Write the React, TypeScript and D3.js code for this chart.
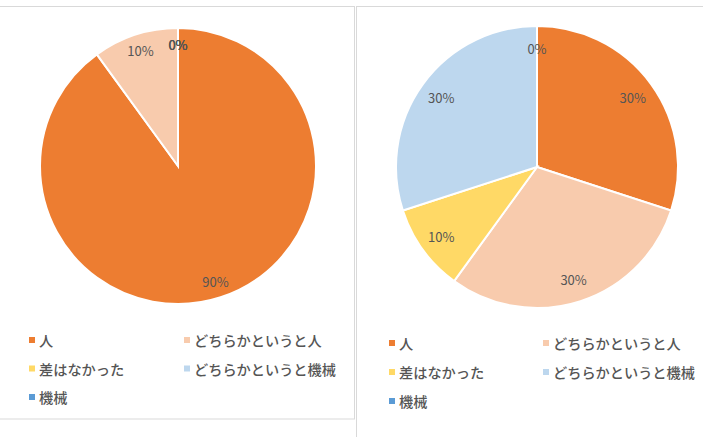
import * as d3 from "d3";

const WIDTH = 703;
const HEIGHT = 437;

const categories = ["人", "どちらかというと人", "差はなかった", "どちらかというと機械", "機械"];
const colors = ["#ED7D31", "#F8CBAD", "#FFD966", "#BDD7EE", "#5B9BD5"];

// percent shares for each chart
const leftValues = [90, 10, 0, 0, 0];
const rightValues = [30, 30, 10, 30, 0];

const FONT = "'Noto Sans CJK JP', 'Noto Sans', sans-serif";

type PanelProps = {
  values: number[];
  cx: number;
  cy: number;
  r: number;
  labelRatio: number;
  legendX: number;
  legendY: number;
  colStep: number;
  rowStep: number;
};

const PiePanel = ({ values, cx, cy, r, labelRatio, legendX, legendY, colStep, rowStep }: PanelProps) => {
  const data = values.map((v, i) => ({ name: categories[i], value: v, color: colors[i] }));
  const total = d3.sum(values);

  const pie = d3.pie<{ name: string; value: number; color: string }>()
    .sort(null)
    .value((d) => d.value);
  const arcs = pie(data);

  const arc = d3.arc<d3.PieArcDatum<any>>().innerRadius(0).outerRadius(r);
  const labelArc = d3.arc<d3.PieArcDatum<any>>()
    .innerRadius(r * labelRatio)
    .outerRadius(r * labelRatio);

  const fmt = d3.format(".0%");

  return (
    <g>
      <g transform={`translate(${cx},${cy})`}>
        {arcs.map((a, i) => (
          <path key={i} d={arc(a) ?? ""} fill={a.data.color} stroke="#fff" strokeWidth={2} />
        ))}
        {arcs.map((a, i) => {
          const [x, y] = labelArc.centroid(a);
          return (
            <text
              key={i}
              x={x}
              y={y}
              textAnchor="middle"
              dominantBaseline="central"
              fontSize={13}
              fontFamily={FONT}
              fill="#555"
            >
              {fmt(a.data.value / total)}
            </text>
          );
        })}
      </g>
      <g transform={`translate(${legendX},${legendY})`}>
        {data.map((d, i) => {
          const col = i % 2;
          const row = Math.floor(i / 2);
          return (
            <g key={i} transform={`translate(${col * colStep},${row * rowStep})`}>
              <rect x={-3} y={-3} width={6} height={6} fill={d.color} />
              <text
                x={7}
                y={0}
                dominantBaseline="central"
                fontSize={14.2}
                fontWeight={500}
                fontFamily={FONT}
                fill="#555"
              >
                {d.name}
              </text>
            </g>
          );
        })}
      </g>
    </g>
  );
};

export default function App() {
  return (
    <svg
      width={WIDTH}
      height={HEIGHT}
      style={{ position: "absolute", left: 0, top: 0, background: "#fff" }}
    >
      {/* chart frames */}
      <rect x={-1.5} y={6.5} width={356} height={412.5} fill="none" stroke="#d9d9d9" strokeWidth={1} />
      <rect x={356.5} y={6.5} width={360} height={450} fill="none" stroke="#d9d9d9" strokeWidth={1} />

      <PiePanel
        values={leftValues}
        cx={178}
        cy={166}
        r={138}
        labelRatio={0.88}
        legendX={32}
        legendY={340}
        colStep={155}
        rowStep={28.5}
      />
      <PiePanel
        values={rightValues}
        cx={537}
        cy={167}
        r={141}
        labelRatio={0.84}
        legendX={392}
        legendY={343}
        colStep={154}
        rowStep={29}
      />
    </svg>
  );
}
